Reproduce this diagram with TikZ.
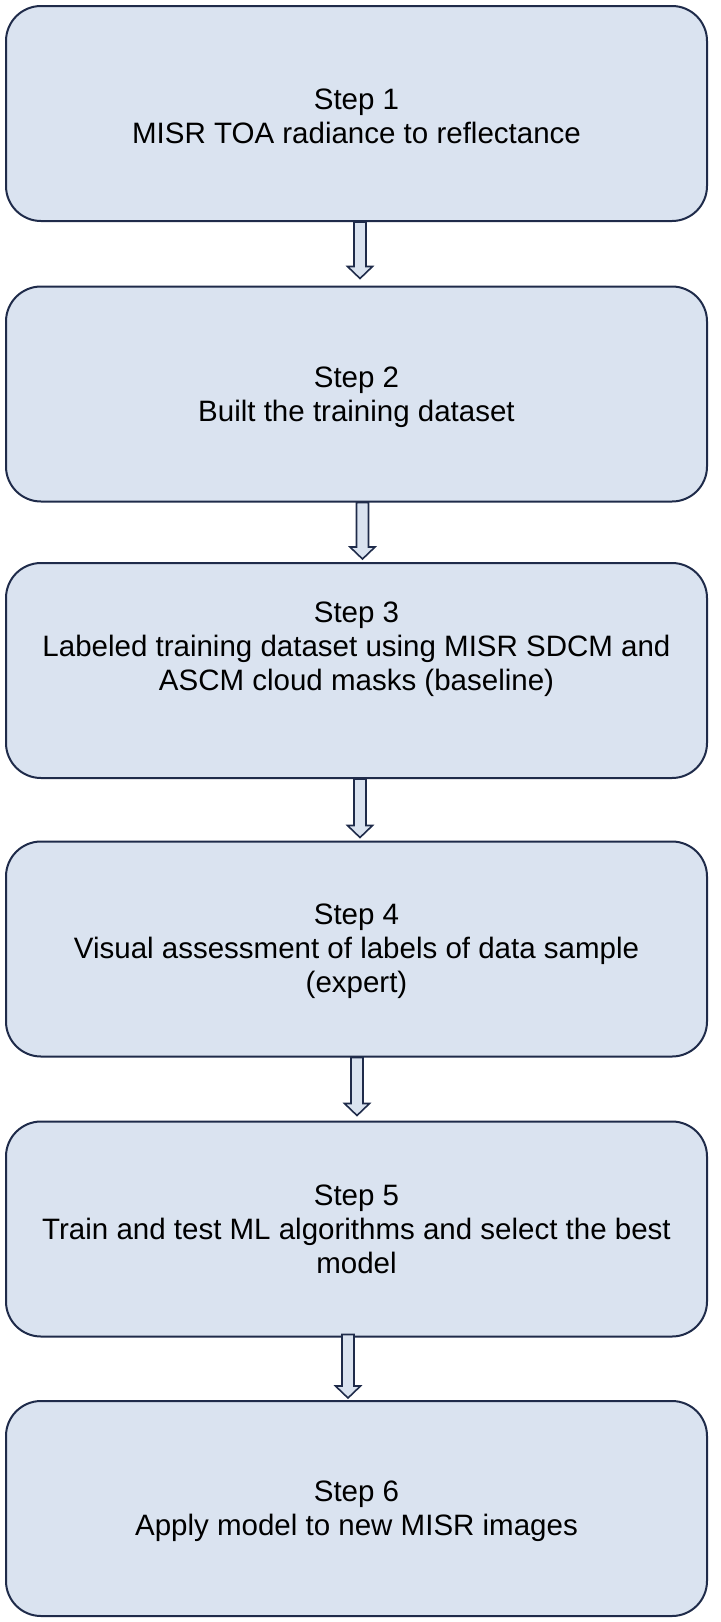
\documentclass[tikz,border=0pt]{standalone}
\usepackage{fontspec}
\setmainfont{Liberation Sans}
\usetikzlibrary{calc}
\definecolor{boxfill}{RGB}{218,227,240}
\definecolor{boxline}{RGB}{31,43,74}
\tikzset{
  stepbox/.style={draw=boxline, fill=boxfill, line width=2pt, rounded corners=35pt,
    minimum width=701pt, minimum height=215pt, inner sep=0pt},
  steptext/.style={inner sep=0pt, align=center,
    font=\fontsize{29.5pt}{34pt}\selectfont, text=black},
  hollowarrow/.style={draw=boxline, fill=boxfill, line width=1.6pt, line join=miter,
    to path={let \p1=(\tikztostart), \p2=(\tikztotarget) in
      (\x1-6pt,\y1) -- (\x1-6pt,\y2+12pt) -- (\x1-12.5pt,\y2+12pt) -- (\x1,\y2)
      -- (\x1+12.5pt,\y2+12pt) -- (\x1+6pt,\y2+12pt) -- (\x1+6pt,\y1) -- cycle}}
}
\begin{document}
\begin{tikzpicture}[x=1pt,y=-1pt]
\useasboundingbox (0,0) rectangle (720,1622);
\node[stepbox] (s1) at (356.5,113.5) {};
\node[stepbox] (s2) at (356.5,394) {};
\node[stepbox] (s3) at (356.5,670.5) {};
\node[stepbox] (s4) at (356.5,949) {};
\node[stepbox] (s5) at (356.5,1229) {};
\node[stepbox] (s6) at (356.5,1508.5) {};
\node[steptext] (t1) at ([yshift=-3pt]s1.center) {Step 1\\MISR TOA radiance to reflectance};
\node[steptext] (t2) at ([yshift=-3pt]s2.center) {Step 2\\Built the training dataset};
\node[steptext] (t3) at ([yshift=21pt]s3.center) {Step 3\\Labeled training dataset using MISR SDCM and\\ASCM cloud masks (baseline)};
\node[steptext] (t4) at ([yshift=-2pt]s4.center) {Step 4\\Visual assessment of labels of data sample\\(expert)};
\node[steptext] (t5) at (s5.center) {Step 5\\Train and test ML algorithms and select the best\\model};
\node[steptext] (t6) at ([yshift=-3pt]s6.center) {Step 6\\Apply model to new MISR images};
\draw[hollowarrow] ([xshift=3.5pt]s1.south) to ([xshift=3.5pt,yshift=7pt]s2.north);
\draw[hollowarrow] ([xshift=6pt]s2.south) to ([xshift=6pt,yshift=3pt]s3.north);
\draw[hollowarrow] ([xshift=3.5pt]s3.south) to ([xshift=3.5pt,yshift=3pt]s4.north);
\draw[hollowarrow] ([xshift=0.5pt]s4.south) to ([xshift=0.5pt,yshift=5pt]s5.north);
\draw[hollowarrow] ([xshift=-8.5pt,yshift=3pt]s5.south) to ([xshift=-8.5pt,yshift=2pt]s6.north);
\end{tikzpicture}
\end{document}
